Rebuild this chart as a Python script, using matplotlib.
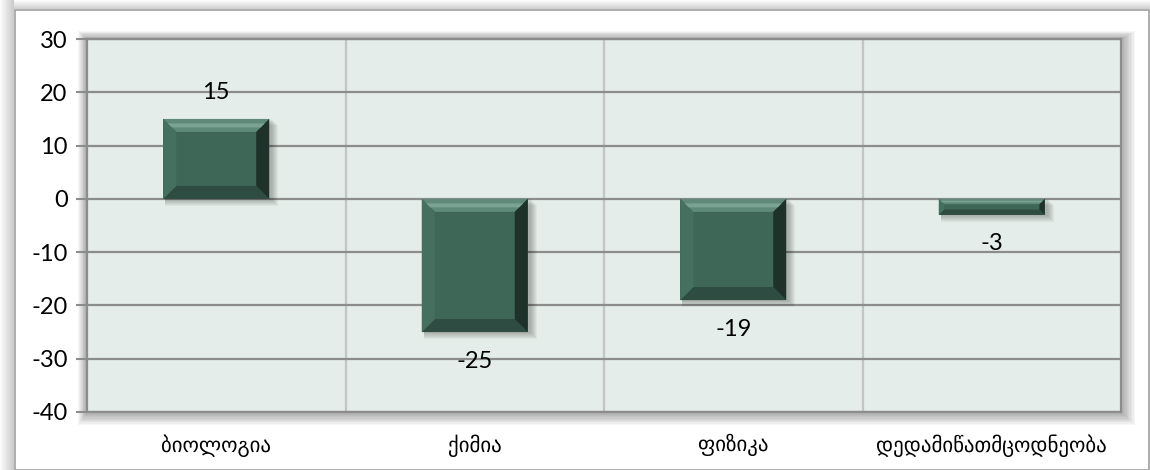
import matplotlib
matplotlib.use("Agg")
import matplotlib.pyplot as plt
from matplotlib.patches import Polygon, Rectangle
from matplotlib.transforms import IdentityTransform

categories = ["ბიოლოგია", "ქიმია", "ფიზიკა", "დედამიწათმცოდნეობა"]
values = [15, -25, -19, -3]
yticks = [-40, -30, -20, -10, 0, 10, 20, 30]

W, H = 1150, 470
fig = plt.figure(figsize=(W / 100, H / 100), dpi=100)
fig.patch.set_facecolor("white")

num_font = ["Lato", "DejaVu Sans"]
geo_font = ["DejaVu Sans"]

# outer frame shadow (left / top)
for i in range(14):
    a = 0.02 + 0.025 * i
    fig.patches.append(Rectangle((i / W, 0), 1 / W, 1, transform=fig.transFigure,
                                 facecolor="black", alpha=a * 0.6, edgecolor="none", zorder=-3))
for i in range(9):
    a = 0.02 + 0.035 * i
    fig.patches.append(Rectangle((14 / W, 1 - (i + 1) / H), 1 - 14 / W, 1 / H, transform=fig.transFigure,
                                 facecolor="black", alpha=a * 0.6, edgecolor="none", zorder=-3))
fig.patches.append(Rectangle((14.5 / W, 0.5 / H), (W - 16) / W, (H - 10) / H, transform=fig.transFigure,
                             facecolor="white", edgecolor="#a0a0a0", linewidth=1.2, zorder=-2))

L, R, T, B = 87, 1121, 39, 412
ax = fig.add_axes([L / W, 1 - B / H, (R - L) / W, (B - T) / H])
ax.set_zorder(1)
ax.set_facecolor("#e4ede9")

# plot-area soft shadow
for k in range(10, 0, -1):
    fig.patches.append(Rectangle(((L - k * 0.9) / W, 1 - (B + k * 1.3) / H),
                                 (R - L + k * 2.3) / W, (B - T + k * 2.1) / H,
                                 transform=fig.transFigure, facecolor="black",
                                 alpha=0.035, edgecolor="none", zorder=-1))

x = list(range(len(categories)))
bars = ax.bar(x, values, width=0.41, color="#3e6757", edgecolor="none", zorder=3)
ax.set_xlim(-0.5, len(categories) - 0.5)
ax.set_ylim(min(yticks), max(yticks))
ax.set_yticks(yticks)
ax.set_yticklabels([str(t) for t in yticks], fontsize=17, family=num_font, color="black")
ax.set_xticks(x)
ax.set_xticklabels(categories, fontsize=15, family=geo_font, color="black")
ax.set_xticks([i + 0.5 for i in x[:-1]], minor=True)
ax.tick_params(axis="x", which="both", length=0, pad=16)
ax.tick_params(axis="y", length=8, width=1.5, color="#8c8c8c", pad=6, direction="out")
ax.grid(axis="y", color="#8c8c8c", linewidth=1.6, zorder=1)
ax.grid(axis="x", which="minor", color="#c4c4c4", linewidth=1.6, zorder=1)
ax.grid(axis="x", which="major", visible=False)
ax.set_axisbelow(True)
for s in ax.spines.values():
    s.set_color("#8c8c8c")
    s.set_linewidth(1.6)

fig.canvas.draw()
ident = IdentityTransform()
for b, v in zip(bars, values):
    (x0, y0), (x1, y1) = ax.transData.transform([(b.get_x(), 0), (b.get_x() + b.get_width(), v)])
    lo, hi = min(y0, y1), max(y0, y1)
    h = hi - lo
    w = x1 - x0
    d = min(13, h / 3.0, w / 4.0)
    # soft shadow
    for k in range(1, 8):
        ax.add_patch(Rectangle((x0 + 2, lo - k), w + k, h + 1, transform=ident,
                               facecolor="black", alpha=0.04, edgecolor="none", zorder=2))
    top = Polygon([(x0, hi), (x1, hi), (x1 - d, hi - d), (x0 + d, hi - d)], closed=True,
                  transform=ident, facecolor="#5f8a7a", edgecolor="none", zorder=4)
    bottom = Polygon([(x0, lo), (x1, lo), (x1 - d, lo + d), (x0 + d, lo + d)], closed=True,
                     transform=ident, facecolor="#2e4c41", edgecolor="none", zorder=4)
    left = Polygon([(x0, lo), (x0, hi), (x0 + d, hi - d), (x0 + d, lo + d)], closed=True,
                   transform=ident, facecolor="#456f5f", edgecolor="none", zorder=4)
    right = Polygon([(x1, lo), (x1, hi), (x1 - d, hi - d), (x1 - d, lo + d)], closed=True,
                    transform=ident, facecolor="#1e322b", edgecolor="none", zorder=4)
    for p in (top, bottom, left, right):
        ax.add_patch(p)
    stripe = Polygon([(x0 + d * 0.35, hi - d * 0.35), (x1 - d * 0.35, hi - d * 0.35),
                      (x1 - d * 0.65, hi - d * 0.65), (x0 + d * 0.65, hi - d * 0.65)], closed=True,
                     transform=ident, facecolor="#7aa393", edgecolor="none", zorder=4.1)
    ax.add_patch(stripe)

for xi, v in zip(x, values):
    off = 26 if v > 0 else -29
    ax.annotate(str(v), xy=(xi, v), xytext=(0, off * 0.72), textcoords="offset points",
                ha="center", va="center", fontsize=17, family=num_font, color="black", zorder=6)

fig.savefig("out.png", dpi=100)
